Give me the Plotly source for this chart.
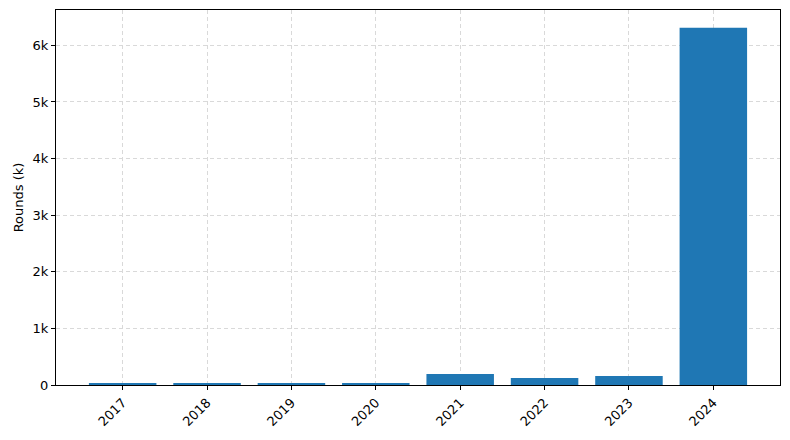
import plotly.graph_objects as go

years = ['2017', '2018', '2019', '2020', '2021', '2022', '2023', '2024']
rounds = [20, 20, 35, 20, 195, 125, 160, 6310]

y_ticks = [0, 1000, 2000, 3000, 4000, 5000, 6000]
y_tick_labels = ['0', '1k', '2k', '3k', '4k', '5k', '6k']

x_pos = list(range(len(years)))

fig = go.Figure()
fig.add_trace(go.Bar(x=x_pos, y=rounds, width=0.8,
                     marker=dict(color='#1f77b4', line=dict(width=0))))

fig.update_layout(
    width=790, height=440,
    margin=dict(l=56, r=10, t=10, b=55),
    plot_bgcolor='white', paper_bgcolor='white',
    font=dict(family='DejaVu Sans', size=13, color='black'),
    showlegend=False,
)
fig.update_xaxes(
    range=[-0.79, 7.79], tickmode='array', tickvals=x_pos, ticktext=years,
    tickangle=-45, ticks='outside', ticklen=4, tickcolor='black',
    showline=True, linecolor='black', linewidth=1, mirror=True,
    showgrid=True, gridcolor='#d9d9d9', griddash='4px,3px', gridwidth=1,
    zeroline=False, automargin=False,
)
fig.update_yaxes(
    range=[0, 6625], tickmode='array', tickvals=y_ticks, ticktext=y_tick_labels,
    ticks='outside', ticklen=4, tickcolor='black',
    showline=True, linecolor='black', linewidth=1, mirror=True,
    showgrid=True, gridcolor='#d9d9d9', griddash='4px,3px', gridwidth=1,
    zeroline=False, automargin=False,
    title=dict(text='Rounds (k)', standoff=6, font=dict(size=13)),
)

# la página trae margen de 8px en el body, se quita
fig.write_html("out.html", config={'displayModeBar': False},
               post_script="document.body.style.margin='0';")
